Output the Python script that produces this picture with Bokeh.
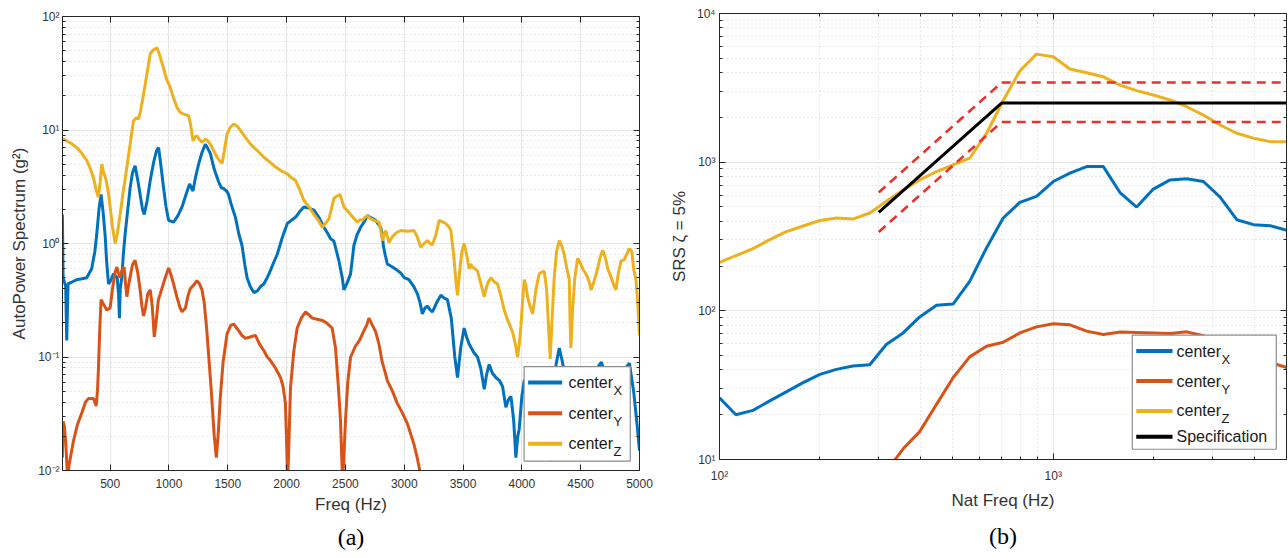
import math
from bokeh.plotting import figure
from bokeh.models import (FixedTicker, LinearAxis, LogAxis, Range1d, Title,
                          CustomJSTickFormatter)
from bokeh.layouts import row
from bokeh.embed import file_html
from bokeh.resources import INLINE
from bokeh.core.properties import value

# ---------------- Panel (a): AutoPower spectrum ----------------
a_x_freq = [94, 100, 122, 131, 142, 180, 216, 260, 301, 343, 370, 386, 405, 423, 440, 457, 470, 486, 505, 528,
            560, 572, 579, 586, 599, 612, 627, 650, 670, 690, 712, 735, 755, 775, 790, 815, 841, 870, 895, 912,
            930, 954, 975, 997, 1039, 1075, 1111, 1150, 1175, 1190, 1204, 1225, 1252, 1280, 1309, 1330, 1352,
            1385, 1422, 1445, 1465, 1490, 1507, 1530, 1565, 1595, 1621, 1645, 1664, 1690, 1721, 1750, 1780, 1806,
            1835, 1863, 1890, 1920, 1960, 2006, 2040, 2076, 2110, 2147, 2190, 2232, 2275, 2317, 2345, 2374, 2402,
            2425, 2445, 2473, 2487, 2515, 2544, 2572, 2600, 2629, 2660, 2686, 2720, 2757, 2799, 2815, 2822, 2840,
            2856, 2900, 2941, 2970, 3000, 3040, 3080, 3112, 3135, 3154, 3175, 3197, 3220, 3240, 3275, 3311, 3340,
            3367, 3400, 3430, 3453, 3480, 3509, 3530, 3552, 3590, 3623, 3650, 3680, 3700, 3722, 3750, 3779, 3810,
            3836, 3864, 3885, 3907, 3930, 3949, 3965, 3977, 4000, 4020, 4063, 4100, 4180, 4225, 4241, 4265, 4290,
            4318, 4345, 4380, 4430, 4500, 4600, 4676, 4720, 4800, 4860, 4914, 4950, 4980, 5000]
a_x_val = [1.8, 0.5, 0.42, 0.14, 0.44, 0.46, 0.48, 0.49, 0.5, 0.6, 0.85, 1.2, 2.0, 2.7, 1.9, 1.2, 0.7, 0.44, 0.47, 0.54,
           0.5, 0.35, 0.22, 0.4, 0.5, 0.8, 1.2, 2.0, 3.1, 4.2, 4.85, 3.6, 2.7, 2.0, 1.8, 2.4, 3.6, 5.2, 6.6, 7.0,
           5.0, 3.1, 2.1, 1.6, 1.54, 1.75, 2.1, 2.8, 3.35, 3.1, 2.9, 3.8, 5.0, 6.3, 7.5, 6.9, 6.2,
           4.5, 3.5, 3.1, 3.05, 2.9, 2.7, 2.2, 1.7, 1.2, 0.96, 0.65, 0.5, 0.42, 0.37, 0.38, 0.42, 0.44,
           0.5, 0.58, 0.68, 0.8, 1.1, 1.5, 1.6, 1.7, 1.9, 2.1, 2.05, 1.97, 1.7, 1.39, 1.25, 1.1, 1.05,
           0.85, 0.7, 0.5, 0.39, 0.45, 0.54, 0.96, 1.2, 1.39, 1.55, 1.76, 1.68, 1.6, 1.39, 1.2, 0.96, 0.78,
           0.66, 0.62, 0.58, 0.55, 0.5, 0.48, 0.42, 0.36, 0.3, 0.24, 0.27, 0.28, 0.26, 0.25, 0.3, 0.35, 0.33,
           0.32, 0.22, 0.1, 0.066, 0.12, 0.18, 0.15, 0.13, 0.11, 0.1, 0.08, 0.052, 0.07, 0.086, 0.072, 0.066, 0.062,
           0.055, 0.036, 0.042, 0.045, 0.028, 0.013, 0.02, 0.023, 0.045, 0.062, 0.066, 0.045, 0.03, 0.02, 0.012, 0.04, 0.085,
           0.12, 0.09, 0.055, 0.04, 0.05, 0.07, 0.09, 0.065, 0.06, 0.075, 0.088, 0.05, 0.025, 0.015]

a_y_freq = [94, 100, 110, 122, 133, 140, 150, 187, 220, 258, 290, 315, 358, 381, 392, 400, 412, 423, 445, 472,
            500, 520, 543, 557, 570, 585, 600, 619, 630, 642, 660, 690, 712, 735, 755, 770, 784, 800, 820, 841,
            858, 875, 890, 910, 926, 960, 997, 1020, 1039, 1070, 1095, 1111, 1140, 1160, 1181, 1210, 1238, 1260,
            1281, 1300, 1320, 1337, 1360, 1385, 1403, 1420, 1437, 1460, 1494, 1525, 1551, 1575, 1594, 1620, 1650,
            1690, 1735, 1770, 1806, 1835, 1863, 1905, 1948, 1970, 1990, 2002, 2008, 2015, 2033, 2060, 2090, 2125,
            2161, 2190, 2218, 2260, 2303, 2340, 2387, 2416, 2440, 2458, 2470, 2476, 2485, 2501, 2520, 2544, 2586,
            2620, 2657, 2680, 2700, 2730, 2757, 2785, 2813, 2835, 2856, 2900, 2941, 2985, 3026, 3055, 3083, 3110,
            3132, 3150]
a_y_val = [0.013, 0.027, 0.025, 0.018, 0.011, 0.008, 0.011, 0.018, 0.025, 0.032, 0.04, 0.043, 0.043, 0.037, 0.05, 0.076, 0.18, 0.32, 0.29, 0.26,
           0.27, 0.4, 0.56, 0.62, 0.55, 0.5, 0.58, 0.62, 0.45, 0.34, 0.45, 0.65, 0.71, 0.55, 0.39, 0.28, 0.23, 0.27, 0.36, 0.39,
           0.28, 0.15, 0.2, 0.32, 0.36, 0.47, 0.61, 0.52, 0.44, 0.33, 0.27, 0.25, 0.27, 0.34, 0.4, 0.43, 0.47, 0.44,
           0.39, 0.3, 0.18, 0.105, 0.05, 0.02, 0.013, 0.022, 0.045, 0.09, 0.16, 0.19, 0.195, 0.18, 0.17, 0.155, 0.146,
           0.15, 0.155, 0.13, 0.114, 0.1, 0.093, 0.08, 0.066, 0.055, 0.039, 0.015, 0.008, 0.012, 0.053, 0.11, 0.18, 0.22,
           0.25, 0.235, 0.22, 0.215, 0.21, 0.2, 0.18, 0.12, 0.055, 0.028, 0.012, 0.008, 0.012, 0.028, 0.06, 0.1, 0.125,
           0.14, 0.17, 0.19, 0.22, 0.19, 0.167, 0.13, 0.09, 0.075, 0.062, 0.05, 0.039, 0.032, 0.026, 0.021, 0.017, 0.013,
           0.01, 0.008]

a_z_freq = [94, 131, 170, 216, 260, 301, 330, 358, 380, 400, 415, 429, 445, 466, 485, 500, 520, 543, 560, 585,
            610, 642, 670, 698, 720, 741, 760, 784, 810, 841, 870, 898, 920, 954, 980, 1011, 1040, 1068, 1095, 1125,
            1167, 1185, 1204, 1220, 1238, 1260, 1281, 1310, 1330, 1352, 1380, 1409, 1435, 1452, 1470, 1494, 1520,
            1551, 1580, 1608, 1650, 1693, 1730, 1770, 1807, 1850, 1892, 1950, 2006, 2040, 2076, 2110, 2147, 2190,
            2232, 2270, 2303, 2330, 2360, 2380, 2402, 2425, 2454, 2470, 2487, 2515, 2544, 2575, 2601, 2625, 2644,
            2665, 2686, 2715, 2743, 2786, 2800, 2814, 2828, 2843, 2857, 2871, 2900, 2935, 2970, 3030, 3084, 3110,
            3140, 3170, 3197, 3220, 3240, 3270, 3296, 3325, 3353, 3380, 3396, 3420, 3439, 3453, 3470, 3490, 3509,
            3530, 3552, 3565, 3580, 3600, 3623, 3650, 3680, 3710, 3737, 3765, 3793, 3820, 3850, 3880, 3921, 3945,
            3963, 3978, 3992, 4005, 4020, 4035, 4048, 4070, 4091, 4105, 4119, 4147, 4170, 4190, 4210, 4230, 4241,
            4255, 4275, 4295, 4318, 4340, 4360, 4380, 4403, 4410, 4417, 4430, 4450, 4474, 4495, 4517, 4540, 4559,
            4575, 4588, 4610, 4644, 4665, 4687, 4710, 4730, 4760, 4785, 4800, 4820, 4843, 4870, 4890, 4914, 4935,
            4950, 4970, 4985, 5000]
a_z_val = [8.4, 8.0, 7.6, 7.0, 6.2, 5.4, 4.6, 3.8, 3.0, 2.55, 3.5, 5.0, 4.2, 3.6, 2.8, 2.1, 1.4, 1.0, 1.2, 1.8,
           2.8, 4.7, 7.5, 12, 12.8, 12.5, 15, 20.7, 30, 47, 51, 53, 46, 35, 28, 23.7, 19, 15.8, 14.3, 13.8,
           13.4, 11, 8.05, 8.6, 8.9, 8.2, 7.8, 8.3, 8.0, 7.5, 6.6, 5.75, 5.3, 5.1, 6.5, 9.2, 10.5,
           11.3, 10.8, 9.9, 8.6, 7.5, 6.9, 6.3, 5.75, 5.3, 4.85, 4.4, 4.1, 3.8, 3.6, 3.0, 2.4, 2.1,
           1.8, 1.6, 1.39, 1.5, 1.65, 2.0, 2.5, 2.6, 2.7, 2.4, 2.1, 1.95, 1.8, 1.65, 1.54, 1.62, 1.6,
           1.7, 1.76, 1.65, 1.6, 1.54, 1.3, 1.06, 1.2, 1.3, 1.15, 1.02, 1.15, 1.25, 1.3, 1.28, 1.3, 1.15,
           0.93, 1.0, 1.06, 1.0, 0.98, 1.2, 1.6, 1.55, 1.5, 1.4, 1.3, 0.8, 0.47, 0.35, 0.55, 0.85, 1.0,
           0.8, 0.6, 0.66, 0.62, 0.6, 0.57, 0.45, 0.34, 0.45, 0.5, 0.46, 0.44, 0.35, 0.26, 0.21, 0.166, 0.13,
           0.1, 0.13, 0.186, 0.3, 0.48, 0.42, 0.34, 0.28, 0.24, 0.3, 0.39, 0.54, 0.56, 0.57, 0.4, 0.16, 0.096,
           0.2, 0.5, 0.85, 1.06, 0.95, 0.8, 0.62, 0.48, 0.2, 0.12, 0.25, 0.5, 0.74, 0.68, 0.6, 0.55, 0.5,
           0.45, 0.39, 0.45, 0.6, 0.75, 0.87, 0.75, 0.6, 0.5, 0.42, 0.39, 0.55, 0.7, 0.72, 0.8, 0.9, 0.85,
           0.6, 0.48, 0.3, 0.155]

a_x_ticks = [500, 1000, 1500, 2000, 2500, 3000, 3500, 4000, 4500, 5000]

# ---------------- Panel (b): shock response spectrum ----------------
b_freq = [100, 112, 126, 141, 158, 178, 200, 224, 251, 282, 316, 355, 398, 447, 501, 562, 631, 708,
          794, 891, 1000, 1122, 1259, 1413, 1585, 1778, 1995, 2239, 2512, 2818, 3162, 3548, 3981, 4467, 5012]
b_x_val = [26, 20, 21.4, 24.7, 28.4, 32.9, 37.4, 40.4, 42.5, 43.4, 59.4, 71, 91, 109, 111, 158, 265, 421,
           536, 588, 741, 843, 934, 934, 625, 499, 659, 760, 773, 741, 582, 410, 380, 374, 348]
b_y_val = [None, None, None, None, None, None, None, None, None, None, 8.3, 11.8, 15.4, 23.5, 35.5, 49, 57.8, 61.5,
           71, 78, 81.8, 80.5, 73, 69.3, 72, 71.5, 71, 70.4, 72.2, 68, 62, 56, 50, 45, 41.5]
b_z_val = [212, 235, 262, 300, 340, 372, 405, 421, 414, 455, 545, 650, 760, 865, 960, 1063, 1560, 2600,
           4100, 5330, 5120, 4230, 3990, 3750, 3300, 3030, 2830, 2620, 2360, 2075, 1778, 1565, 1450, 1374, 1374]

spec_freq = [300, 700, 5000]
spec_val = [459, 2500, 2500]
spec_upper = [625, 3430, 3430]
spec_lower = [339, 1860, 1860]

legend_a = ["X", "Y", "Z"]
legend_b = ["X", "Y", "Z", "Specification"]

BLUE = "#0072BD"
ORANGE = "#D95319"
YELLOW = "#EDB120"
AX = "#262626"
TXT = "#333333"
FONT = "Liberation Sans"

SUP = """
const m = {"-": "\u207b", "0": "\u2070", "1": "\u00b9", "2": "\u00b2", "3": "\u00b3", "4": "\u2074"};
const e = Math.round(Math.log10(tick));
return "10" + String(e).split("").map(c => m[c]).join("");
"""
EMPTY = "return '';"


def style_axis(ax, labels=True):
    ax.axis_line_color = AX
    ax.axis_line_width = 1
    ax.major_tick_line_color = AX
    ax.minor_tick_line_color = AX
    ax.major_tick_in = 6
    ax.major_tick_out = 0
    ax.minor_tick_in = 3
    ax.minor_tick_out = 0
    ax.major_label_text_font = FONT
    ax.major_label_text_font_size = "12px"
    ax.major_label_text_color = TXT
    ax.major_label_text_line_height = 1.0
    ax.axis_label_text_font = FONT
    ax.axis_label_text_font_size = "17px"
    ax.axis_label_text_font_style = "normal"
    ax.axis_label_text_color = TXT
    ax.axis_label_text_line_height = 1.0
    if not labels:
        ax.formatter = CustomJSTickFormatter(code=EMPTY)
        ax.major_label_standoff = 0


def log_minors(e0, e1):
    return [m * 10.0 ** e for e in range(e0, e1) for m in range(2, 10)]


def make_fig(width, xr, yr, xtype, borders):
    l, r, t, b = borders
    p = figure(width=width, height=558, x_range=xr, y_range=yr, x_axis_type=xtype, y_axis_type="log",
               output_backend="svg", toolbar_location=None, min_border_left=l, min_border_right=r,
               min_border_top=t, min_border_bottom=b, background_fill_color="white",
               border_fill_color="white", frame_align=False)
    p.outline_line_color = None
    return p


def draw_legend(p, fx, fy, box, lx, tx, rows, colors, labels):
    p.quad(left=[fx(box[0])], right=[fx(box[1])], bottom=[fy(box[2])], top=[fy(box[3])],
           fill_color="white", line_color="#8c8c8c", line_width=1.2)
    ys = [fy(r) for r in rows]
    p.segment(x0=[fx(lx[0])] * len(ys), x1=[fx(lx[1])] * len(ys), y0=ys, y1=ys,
              line_color=colors, line_width=4)
    mains = ["center" if len(s) == 1 else s for s in labels]
    p.text(x=[fx(tx)] * len(ys), y=ys, text=mains, text_font=value(FONT), text_font_size="16px",
           text_baseline="middle", text_align="left", text_color="#1a1a1a")
    sub_y = [y for y, s in zip(ys, labels) if len(s) == 1]
    subs = [s for s in labels if len(s) == 1]
    p.text(x=[fx(tx)] * len(sub_y), y=sub_y, text=subs, text_font=value(FONT), text_font_size="13px",
           text_baseline="middle", text_align="left", text_color="#1a1a1a", x_offset=45, y_offset=8)


def caption(p, text, standoff):
    p.add_layout(Title(text=text, align="center", text_font="Liberation Serif", text_font_size="24px",
                       text_font_style="normal", text_color="black", standoff=standoff,
                       text_line_height=1.0), "below")


# ---------- panel (a) ----------
AX0, AX1, AY0, AY1 = 95, 5000, 0.01, 100
p1 = make_fig(660, Range1d(AX0, AX1), Range1d(AY0, AY1), "linear", (62, 21, 16, 88))
xt_a = FixedTicker(ticks=a_x_ticks, minor_ticks=[])
yt_a = FixedTicker(ticks=[0.01, 0.1, 1, 10, 100], minor_ticks=log_minors(-2, 2))
p1.xaxis.ticker = xt_a
p1.yaxis.ticker = yt_a
p1.yaxis.formatter = CustomJSTickFormatter(code=SUP)
p1.xaxis.axis_label = "Freq (Hz)"
p1.yaxis.axis_label = "AutoPower Spectrum (g\u00b2)"
for ax in p1.xaxis + p1.yaxis:
    style_axis(ax)
p1.xaxis.major_label_standoff = 8
p1.xaxis.axis_label_standoff = 4
p1.yaxis.major_label_standoff = 3
p1.yaxis.axis_label_standoff = 6
top1 = LinearAxis(ticker=xt_a)
right1 = LogAxis(ticker=yt_a)
style_axis(top1, False)
style_axis(right1, False)
p1.add_layout(top1, "above")
p1.add_layout(right1, "right")
p1.xgrid.ticker = xt_a
p1.ygrid.ticker = yt_a
p1.xgrid.grid_line_color = "#e6e6e6"
p1.ygrid.grid_line_color = "#e6e6e6"
p1.ygrid.minor_grid_line_color = "#d2d2d2"
p1.ygrid.minor_grid_line_dash = "1 3"

p1.line(a_x_freq, a_x_val, line_color=BLUE, line_width=3)
p1.line(a_y_freq, a_y_val, line_color=ORANGE, line_width=3)
p1.line(a_z_freq, a_z_val, line_color=YELLOW, line_width=3)


def fx1(f):
    return AX0 + f * (AX1 - AX0)


def fy1(f):
    return 10 ** (math.log10(AY0) + f * (math.log10(AY1) - math.log10(AY0)))


draw_legend(p1, fx1, fy1, (0.800, 0.984, 0.0205, 0.229), (0.807, 0.866), 0.877,
            [0.194, 0.126, 0.059], [BLUE, ORANGE, YELLOW], legend_a)
caption(p1, "(a)", 11)

# ---------- panel (b) ----------
BX0, BX1, BY0, BY1 = 100, 5000, 10, 10000
p2 = make_fig(628, Range1d(BX0, BX1), Range1d(BY0, BY1), "log", (59, 2, 13, 99))
xt_b = FixedTicker(ticks=[100, 1000], minor_ticks=log_minors(2, 4))
yt_b = FixedTicker(ticks=[10, 100, 1000, 10000], minor_ticks=log_minors(1, 4))
p2.xaxis.ticker = xt_b
p2.yaxis.ticker = yt_b
p2.xaxis.formatter = CustomJSTickFormatter(code=SUP)
p2.yaxis.formatter = CustomJSTickFormatter(code=SUP)
p2.xaxis.axis_label = "Nat Freq (Hz)"
p2.yaxis.axis_label = "SRS \u03b6 = 5%"
for ax in p2.xaxis + p2.yaxis:
    style_axis(ax)
p2.xaxis.major_label_standoff = 9
p2.xaxis.axis_label_standoff = 5
p2.yaxis.major_label_standoff = 4
p2.yaxis.axis_label_standoff = 5
top2 = LogAxis(ticker=xt_b)
right2 = LogAxis(ticker=yt_b)
style_axis(top2, False)
style_axis(right2, False)
p2.add_layout(top2, "above")
p2.add_layout(right2, "right")
p2.xgrid.ticker = xt_b
p2.ygrid.ticker = yt_b
for g in (p2.xgrid, p2.ygrid):
    g.grid_line_color = "#e6e6e6"
    g.minor_grid_line_color = "#d2d2d2"
    g.minor_grid_line_dash = "1 3"

b_y_freq = [f for f, v in zip(b_freq, b_y_val) if v is not None]
b_y_vals = [v for v in b_y_val if v is not None]
p2.line(b_freq, b_x_val, line_color=BLUE, line_width=3)
p2.line(b_y_freq, b_y_vals, line_color=ORANGE, line_width=3)
p2.line(b_freq, b_z_val, line_color=YELLOW, line_width=3)
p2.line(spec_freq, spec_val, line_color="black", line_width=3)
p2.line(spec_freq, spec_upper, line_color="#E8322B", line_width=2.5, line_dash="9 6")
p2.line(spec_freq, spec_lower, line_color="#E8322B", line_width=2.5, line_dash="9 6")


def fx2(f):
    return 10 ** (math.log10(BX0) + f * (math.log10(BX1) - math.log10(BX0)))


def fy2(f):
    return 10 ** (math.log10(BY0) + f * (math.log10(BY1) - math.log10(BY0)))


draw_legend(p2, fx2, fy2, (0.728, 0.982, 0.023, 0.279), (0.735, 0.799), 0.806,
            [0.243, 0.176, 0.109, 0.051], [BLUE, ORANGE, YELLOW, "black"], legend_b)
caption(p2, "(b)", 16)

layout = row(p1, p2)
open("out.html", "w").write(file_html(layout, INLINE))
